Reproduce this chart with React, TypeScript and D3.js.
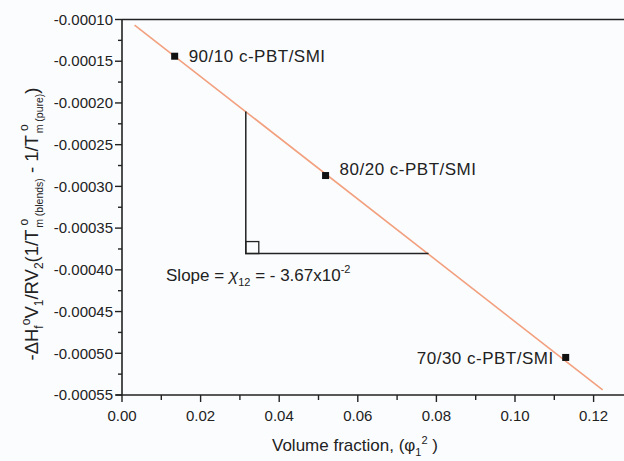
import * as d3 from 'd3'

const W = 624, H = 461
const M = { top: 19.5, right: 0, bottom: 66, left: 122 }

// data points (volume fraction, y value)
const POINTS = [
  { x: 0.0134, y: -0.000144, label: '90/10 c-PBT/SMI', dx: 14, dy: 6, anchor: 'start' },
  { x: 0.0518, y: -0.000287, label: '80/20 c-PBT/SMI', dx: 14, dy: -1, anchor: 'start' },
  { x: 0.1129, y: -0.000505, label: '70/30 c-PBT/SMI', dx: -12, dy: 7, anchor: 'end' },
]
// linear fit endpoints
const FIT = [
  [0.0032, -0.0001066],
  [0.1223, -0.000544],
]
// slope triangle
const TRI = [
  [0.0315, -0.0002103],
  [0.0315, -0.0003805],
  [0.078, -0.0003805],
]
const X_TICKS = [0, 0.02, 0.04, 0.06, 0.08, 0.1, 0.12]
const X_MINOR = [0.01, 0.03, 0.05, 0.07, 0.09, 0.11]
const Y_TICKS = [-0.0001, -0.00015, -0.0002, -0.00025, -0.0003, -0.00035, -0.0004, -0.00045, -0.0005, -0.00055]
const Y_MINOR = [-0.000125, -0.000175, -0.000225, -0.000275, -0.000325, -0.000375, -0.000425, -0.000475, -0.000525]

const FONT = 'Arial, "Liberation Sans", Helvetica, sans-serif'
const fmtY = (t: number) => d3.format('.5f')(t).replace('−', '-')

export default function App() {
  const x = d3.scaleLinear().domain([0, 0.02]).range([M.left, M.left + 78.6])
  const y = d3.scaleLinear().domain([-0.0001, -0.00055]).range([M.top, H - M.bottom])
  const x0 = x(0), y0 = y(-0.00055)
  const line = d3.line<number[]>().x((d) => x(d[0])).y((d) => y(d[1]))

  return (
    <svg width={W} height={H} style={{ position: 'absolute', left: 0, top: 0, background: '#fbfcfe' }} fontFamily={FONT}>
      {/* frame */}
      <line x1={x0} x2={W} y1={M.top} y2={M.top} stroke="#222" strokeWidth={1.6} />
      <line x1={x0} x2={x0} y1={M.top} y2={y0} stroke="#222" strokeWidth={1.6} />
      <line x1={x0 - 6} x2={W} y1={y0} y2={y0} stroke="#222" strokeWidth={1.6} />

      {/* y ticks */}
      {Y_TICKS.map((t) => (
        <g key={t}>
          <line x1={x0 - 7} x2={x0} y1={y(t)} y2={y(t)} stroke="#222" strokeWidth={1.4} />
          <text x={x0 - 9} y={y(t)} dy="0.35em" textAnchor="end" fontSize={15} fill="#222">
            {fmtY(t)}
          </text>
        </g>
      ))}
      {Y_MINOR.map((t) => (
        <line key={t} x1={x0 - 4} x2={x0} y1={y(t)} y2={y(t)} stroke="#222" strokeWidth={1.4} />
      ))}

      {/* x ticks */}
      {X_TICKS.map((t) => (
        <g key={t}>
          <line x1={x(t)} x2={x(t)} y1={y0} y2={y0 + 7} stroke="#222" strokeWidth={1.4} />
          <text x={x(t)} y={y0 + 21} dy="0.35em" textAnchor="middle" fontSize={15} fill="#222">
            {d3.format('.2f')(t)}
          </text>
        </g>
      ))}
      {X_MINOR.map((t) => (
        <line key={t} x1={x(t)} x2={x(t)} y1={y0} y2={y0 + 5} stroke="#222" strokeWidth={1.4} />
      ))}

      {/* fit line */}
      <path d={line(FIT) ?? ''} fill="none" stroke="#f2a07e" strokeWidth={1.6} />

      {/* triangle */}
      <path d={line(TRI) ?? ''} fill="none" stroke="#222" strokeWidth={1.5} />
      <rect x={x(TRI[1][0])} y={y(TRI[1][1]) - 12} width={13} height={12} fill="none" stroke="#222" strokeWidth={1.3} />
      <text x={x(0.0112)} y={y(-0.0003805) + 27} fontSize={17} fill="#222">
        Slope = <tspan fontStyle="italic">χ</tspan>
        <tspan fontSize={11} dy={5}>12</tspan>
        <tspan dy={-5}> = - 3.67x10</tspan>
        <tspan fontSize={11} dy={-8}>-2</tspan>
      </text>

      {/* points */}
      {POINTS.map((p) => (
        <g key={p.label}>
          <rect x={x(p.x) - 3.5} y={y(p.y) - 3.5} width={7} height={7} fill="#111" />
          <text x={x(p.x) + p.dx} y={y(p.y) + p.dy} textAnchor={p.anchor} fontSize={17} fill="#222" letterSpacing={0.5}>
            {p.label}
          </text>
        </g>
      ))}

      {/* x title */}
      <text x={355} y={451} textAnchor="middle" fontSize={17} fill="#222">
        Volume fraction, (φ<tspan fontSize={11} dy={5}>1</tspan>
        <tspan fontSize={11} dy={-12}>2</tspan>
        <tspan dy={7}> )</tspan>
      </text>

      {/* y title */}
      <text transform="translate(38,224) rotate(-90)" textAnchor="middle" fontSize={18.5} fill="#222">
        -ΔH<tspan fontSize={12} dy={5}>f</tspan>
        <tspan fontSize={12} dy={-13}>o</tspan>
        <tspan dy={8}>V</tspan>
        <tspan fontSize={12} dy={5}>1</tspan>
        <tspan dy={-5}>/RV</tspan>
        <tspan fontSize={12} dy={5}>2</tspan>
        <tspan dy={-5}>(1/T</tspan>
        <tspan fontSize={12} dy={-10} dx={4}>o</tspan>
        <tspan fontSize={10.5} dy={15} dx={-9}>m (blends)</tspan>
        <tspan dy={-5}> - 1/T</tspan>
        <tspan fontSize={12} dy={-10} dx={4}>o</tspan>
        <tspan fontSize={10.5} dy={15} dx={-9}>m (pure)</tspan>
        <tspan dy={-5}>)</tspan>
      </text>
    </svg>
  )
}
